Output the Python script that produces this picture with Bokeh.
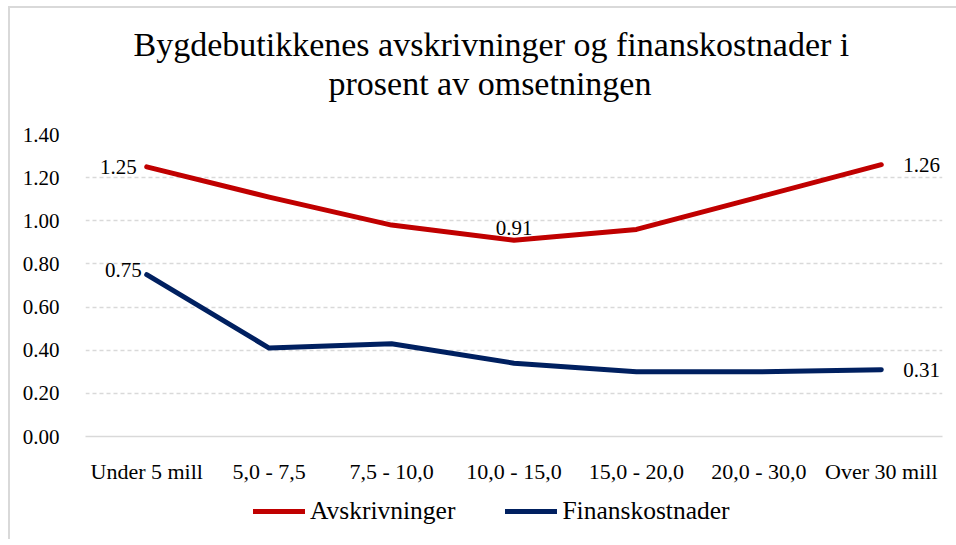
from bokeh.plotting import figure
from bokeh.layouts import column
from bokeh.models import ColumnDataSource, Title, Legend, LegendItem, FixedTicker, NumeralTickFormatter, Range1d
from bokeh.core.properties import value
from bokeh.embed import file_html
from bokeh.resources import INLINE

categories = ["Under 5 mill", "5,0 - 7,5", "7,5 - 10,0", "10,0 - 15,0", "15,0 - 20,0", "20,0 - 30,0", "Over 30 mill"]
avskrivninger = [1.25, 1.11, 0.98, 0.91, 0.96, 1.11, 1.26]
finanskostnader = [0.75, 0.41, 0.43, 0.34, 0.30, 0.30, 0.31]
y_ticks = [0.0, 0.2, 0.4, 0.6, 0.8, 1.0, 1.2, 1.4]
title_lines = ["Bygdebutikkenes avskrivninger og finanskostnader i", "prosent av omsetningen"]
series_names = ["Avskrivninger", "Finanskostnader"]

FONT = "Liberation Serif"
RED = "#C00000"
NAVY = "#002060"
GREY = "#d9d9d9"

p = figure(frame_width=855, frame_height=300, x_range=categories, y_range=Range1d(0, 1.4),
           output_backend="svg", toolbar_location=None, title=None,
           min_border_left=75, min_border_right=16, min_border_top=126, min_border_bottom=48)
p.outline_line_color = None
p.background_fill_color = "white"
p.border_fill_color = "white"
p.styles = {"border-left": f"2px solid {GREY}", "border-top": f"2px solid {GREY}"}

# title lines (last added is outermost)
p.add_layout(Title(text=" ", text_font_size="28px", text_font=FONT, standoff=0), "above")
p.add_layout(Title(text=title_lines[1], align="left", offset=243, text_font=FONT, text_font_size="34px",
                   text_font_style="normal", text_color="#000000", standoff=0, text_line_height=0.9), "above")
p.add_layout(Title(text=title_lines[0], align="left", offset=48, text_font=FONT, text_font_size="34px",
                   text_font_style="normal", text_color="#000000", standoff=0, text_line_height=0.9), "above")

src = ColumnDataSource(dict(x=categories, a=avskrivninger, f=finanskostnader))
r1 = p.line("x", "a", source=src, line_color=RED, line_width=5, line_cap="round", line_join="round")
r2 = p.line("x", "f", source=src, line_color=NAVY, line_width=5, line_cap="round", line_join="round")

# data labels
def lab(i, series, dx, dy, align, baseline):
    p.text(x=[categories[i]], y=[series[i]], text=[f"{series[i]:.2f}"], x_offset=dx, y_offset=dy,
           text_align=align, text_baseline=baseline, text_font=value(FONT),
           text_font_size="21px", text_color="#000000")

lab(0, avskrivninger, -10, 0, "right", "middle")
lab(3, avskrivninger, 0, -5, "center", "bottom")
lab(6, avskrivninger, 22, 0, "left", "middle")
lab(0, finanskostnader, -5, -5, "right", "middle")
lab(6, finanskostnader, 22, 0, "left", "middle")

# axes
p.yaxis.ticker = FixedTicker(ticks=y_ticks)
p.yaxis.formatter = NumeralTickFormatter(format="0.00")
p.yaxis.axis_line_color = None
p.yaxis.major_tick_line_color = None
p.yaxis.minor_tick_line_color = None
p.yaxis.major_label_standoff = 20
p.yaxis.major_label_text_font = FONT
p.yaxis.major_label_text_font_size = "21px"
p.yaxis.major_label_text_color = "#000000"

p.xaxis.axis_line_color = GREY
p.xaxis.axis_line_width = 1.5
p.xaxis.major_tick_line_color = None
p.xaxis.minor_tick_line_color = None
p.xaxis.major_label_standoff = 16
p.xaxis.major_label_text_font = FONT
p.xaxis.major_label_text_font_size = "22px"
p.xaxis.major_label_text_color = "#000000"

p.xgrid.grid_line_color = None
p.ygrid.grid_line_color = GREY
p.ygrid.grid_line_dash = "4 3"
p.ygrid.grid_line_width = 1.5

# legend in its own strip below the chart (series drawn outside its visible y range)
lg = figure(width=946, height=55, x_range=categories, y_range=Range1d(5, 6),
            output_backend="svg", toolbar_location=None, min_border=0)
lg.axis.visible = False
lg.grid.visible = False
lg.outline_line_color = None
lg.styles = {"border-left": f"2px solid {GREY}"}
l1 = lg.line("x", "a", source=src, line_color=RED, line_width=5, line_cap="round")
l2 = lg.line("x", "f", source=src, line_color=NAVY, line_width=5, line_cap="round")
legend = Legend(items=[LegendItem(label=series_names[0], renderers=[l1]),
                       LegendItem(label=series_names[1], renderers=[l2])],
                orientation="horizontal", location=(168, 13),
                label_text_font=FONT, label_text_font_size="25.5px", label_text_color="#000000",
                glyph_width=52, glyph_height=24, spacing=50, label_standoff=5,
                border_line_color=None, background_fill_alpha=0, margin=0, padding=0)
lg.add_layout(legend, "center")

layout = column(p, lg, spacing=0)
layout.styles = {"margin-left": "8px", "margin-top": "6px"}
open("out.html", "w").write(file_html(layout, INLINE))
